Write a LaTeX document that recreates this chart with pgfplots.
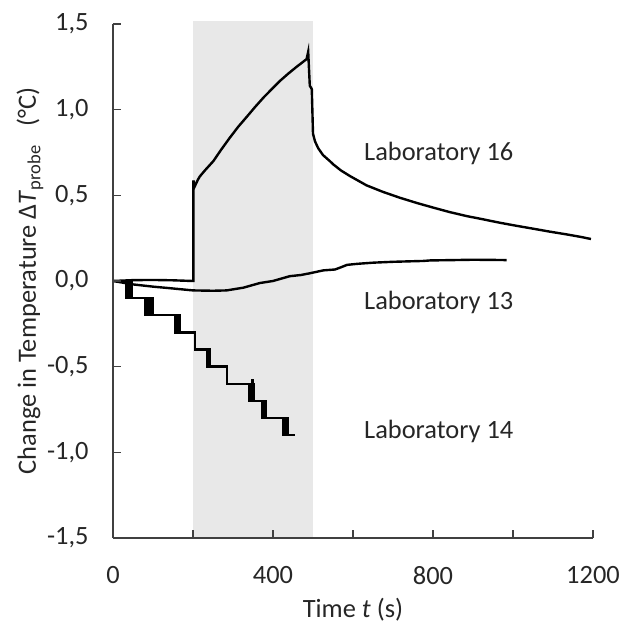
\documentclass[border=0pt]{standalone}
\usepackage{fontspec}
\setmainfont{Carlito}
\usepackage{pgfplots}
\pgfplotsset{compat=1.18}
\begin{document}
\begin{tikzpicture}[font=\fontsize{13.2}{15.8}\selectfont]
\begin{axis}[
  width=240pt, height=257pt, scale only axis,
  xmin=0, xmax=1200, ymin=-1.5, ymax=1.5,
  axis lines*=left,
  axis line style={black!75, line width=0.7pt},
  axis on top,
  clip=false,
  tick align=inside,
  major tick length=4pt,
  every tick/.style={black!75, line width=0.7pt},
  xtick={0,200,400,600,800,1000,1200},
  xticklabels={0,,400,,800,,1200},
  ytick={-1.5,-1,-0.5,0,0.5,1,1.5},
  yticklabels={{-1,5},{-1,0},{-0,5},{0,0},{0,5},{1,0},{1,5}},
  xticklabel style={anchor=north, inner sep=0pt, yshift=-14pt, black!85},
  yticklabel style={anchor=east, inner sep=0pt, xshift=-12pt, black!85},
  xlabel={Time \textit{t} (s)},
  ylabel={Change in Temperature Δ\textit{T}\textsubscript{probe}\ \ \ (°C)},
  xlabel style={at={(axis description cs:0.5,-0.140)}, anchor=center, inner sep=0pt, black!85},
  ylabel style={at={(axis description cs:-0.173,0.5)}, anchor=center, inner sep=0pt, black!85},
]
\fill[black!9] (axis cs:200,-1.5) rectangle (axis cs:500,1.52);

% Laboratory 16
\addplot[black, line width=1.2pt] coordinates {
(0,0.0) (50,0.005) (100,0.006) (150,0.004) (199,0.0)
(201,0.0) (201,0.587) (204,0.55) (208,0.57) (212,0.59) (217,0.61) (230,0.646)
(251,0.70) (270,0.765) (292,0.836) (313,0.90) (334,0.957) (355,1.015)
(376,1.07) (397,1.12) (417,1.167) (438,1.21) (459,1.25) (484,1.295)
(488,1.338) (492,1.14) (497,1.12) (500,0.86) (505,0.815) (513,0.775)
(525,0.735) (542,0.70) (551,0.68) (570,0.645) (592,0.613) (634,0.558)
(675,0.52) (717,0.486) (760,0.455) (801,0.428) (842,0.402) (884,0.379)
(925,0.36) (967,0.34) (1009,0.322) (1051,0.305) (1092,0.288) (1134,0.272)
(1170,0.257) (1195,0.245)
};

% Laboratory 13
\addplot[black, line width=1.2pt] coordinates {
(0,0.0) (50,-0.02) (100,-0.033) (133,-0.04) (200,-0.055) (250,-0.057)
(284,-0.055) (326,-0.039) (367,-0.012) (400,0.0) (442,0.028) (470,0.035)
(492,0.045) (526,0.062) (555,0.067) (570,0.08) (585,0.094) (610,0.10) (651,0.107)
(700,0.112) (776,0.117) (793,0.12) (850,0.122) (900,0.124) (950,0.123) (984,0.122)
};

% Laboratory 14
\addplot[black, line width=1.2pt] coordinates {
(0,0) (33,0)
(33,-0.1) (35,-0.1) (35,0) (37,0) (37,-0.1) (39,-0.1) (39,0) (41,0) (41,-0.1)
(43,-0.1) (43,0) (45,0) (45,-0.1) (47,-0.1) (47,0) (48,0) (48,-0.1)
(80,-0.1)
(80,-0.2) (82,-0.2) (82,-0.1) (84,-0.1) (84,-0.2) (86,-0.2) (86,-0.1) (88,-0.1) (88,-0.2)
(90,-0.2) (90,-0.1) (92,-0.1) (92,-0.2) (94,-0.2) (94,-0.1) (96,-0.1) (96,-0.2) (98,-0.2) (98,-0.1) (99,-0.1) (99,-0.2)
(155,-0.2)
(155,-0.3) (157,-0.3) (157,-0.2) (159,-0.2) (159,-0.3) (161,-0.3) (161,-0.2) (163,-0.2) (163,-0.3) (165,-0.3) (165,-0.2) (166,-0.2) (166,-0.3)
(205,-0.3) (205,-0.4)
(236,-0.4) (236,-0.5) (238,-0.5) (238,-0.4) (240,-0.4) (240,-0.5) (242,-0.5) (242,-0.4) (243,-0.4) (243,-0.5)
(285,-0.5) (285,-0.6)
(341,-0.6) (341,-0.7) (343,-0.7) (343,-0.6) (345,-0.6) (345,-0.7) (347,-0.7) (347,-0.58) (349,-0.58) (349,-0.7)
(351,-0.7) (351,-0.6) (353,-0.6) (353,-0.7) (355,-0.7)
(374,-0.7) (374,-0.8) (376,-0.8) (376,-0.7) (378,-0.7) (378,-0.8) (380,-0.8) (380,-0.7) (382,-0.7) (382,-0.8) (384,-0.8)
(426,-0.8) (426,-0.9) (428,-0.9) (428,-0.8) (430,-0.8) (430,-0.9) (432,-0.9) (432,-0.8) (434,-0.8) (434,-0.9) (436,-0.9) (436,-0.8) (437,-0.8) (437,-0.9)
(455,-0.9)
};

\node[anchor=base west, inner sep=0pt, black!85] at (axis cs:627,0.704) {Laboratory 16};
\node[anchor=base west, inner sep=0pt, black!85] at (axis cs:627,-0.165) {Laboratory 13};
\node[anchor=base west, inner sep=0pt, black!85] at (axis cs:627,-0.92) {Laboratory 14};

\path (axis cs:0,-1.5) ++(-56.5pt,-43pt) rectangle ++(314.5pt,312pt);
\end{axis}
\end{tikzpicture}
\end{document}
